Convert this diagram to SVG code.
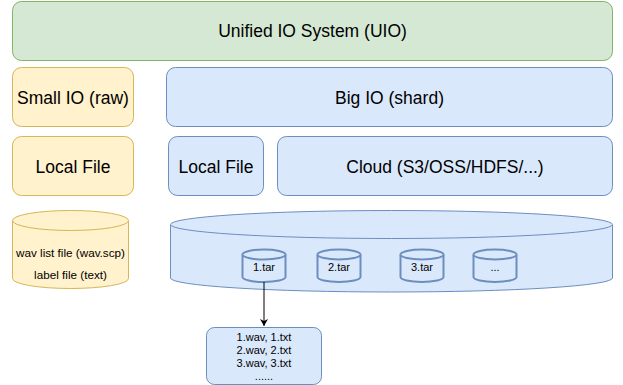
<svg xmlns="http://www.w3.org/2000/svg" width="623" height="385" viewBox="0 0 623 385">
<defs>
<style>
.g{fill:#d5e8d4;stroke:#82b366;stroke-width:1}
.y{fill:#fff2cc;stroke:#d6b656;stroke-width:1}
.b{fill:#dae8fc;stroke:#6c8ebf;stroke-width:1}
.bs{fill:#dae8fc;stroke:#6c8ebf;stroke-width:2}
text{font-family:"Liberation Sans",Arial,sans-serif;fill:#000;text-anchor:middle}
.l{font-size:17.5px}
.m{font-size:11.7px}
.s{font-size:11px}
</style>
<marker id="arr" markerWidth="10" markerHeight="10" refX="8" refY="5" orient="auto" markerUnits="userSpaceOnUse">
<path d="M1,1 L8,5 L1,9 L3,5 Z" fill="#000"/>
</marker>
</defs>
<g id="uio"><rect class="g" x="12.5" y="1.5" width="600" height="59" rx="9"/><text class="l" x="312.5" y="36.5">Unified IO System (UIO)</text></g>
<g id="smallio"><rect class="y" x="12.5" y="67.5" width="121" height="59" rx="9"/><text class="l" x="73" y="103.5">Small IO (raw)</text></g>
<g id="bigio"><rect class="b" x="166.5" y="67.5" width="446" height="59" rx="9"/><text class="l" x="389.5" y="103.5">Big IO (shard)</text></g>
<g id="localfile1"><rect class="y" x="12.5" y="136.5" width="121" height="59" rx="9"/><text class="l" x="73" y="172.5">Local File</text></g>
<g id="localfile2"><rect class="b" x="168.5" y="136.5" width="95" height="59" rx="9"/><text class="l" x="216" y="172.5">Local File</text></g>
<g id="cloud"><rect class="b" x="277.5" y="136.5" width="335" height="59" rx="9"/><text class="l" x="445" y="172.5">Cloud (S3/OSS/HDFS/...)</text></g>
<g id="smallcyl">
<path class="y" d="M12.5,220.5 A58,10 0 0 1 128.5,220.5 L128.5,278.5 A58,10 0 0 1 12.5,278.5 Z"/>
<path class="y" d="M12.5,220.5 A58,10 0 0 0 128.5,220.5" fill="none"/>
<text class="m" x="70.5" y="257">wav list file (wav.scp)</text>
<text class="m" x="70.5" y="279">label file (text)</text>
</g>
<g id="bigcyl">
<path class="b" d="M170.5,224.5 A221,14 0 0 1 612.5,224.5 L612.5,278 A221,14 0 0 1 170.5,278 Z"/>
<path class="b" d="M170.5,224.5 A221,14 0 0 0 612.5,224.5" fill="none"/>
</g>
<g id="tar1">
<path class="bs" d="M242.5,254.5 A21.5,5 0 0 1 285.5,254.5 L285.5,277 A21.5,5 0 0 1 242.5,277 Z"/>
<path class="bs" d="M242.5,254.5 A21.5,5 0 0 0 285.5,254.5" fill="none"/>
<text class="s" x="264" y="271">1.tar</text>
</g>
<g id="tar2">
<path class="bs" d="M317.5,254.5 A21.5,5 0 0 1 360.5,254.5 L360.5,277 A21.5,5 0 0 1 317.5,277 Z"/>
<path class="bs" d="M317.5,254.5 A21.5,5 0 0 0 360.5,254.5" fill="none"/>
<text class="s" x="339" y="271">2.tar</text>
</g>
<g id="tar3">
<path class="bs" d="M400.5,254.5 A21.5,5 0 0 1 443.5,254.5 L443.5,277 A21.5,5 0 0 1 400.5,277 Z"/>
<path class="bs" d="M400.5,254.5 A21.5,5 0 0 0 443.5,254.5" fill="none"/>
<text class="s" x="422" y="271">3.tar</text>
</g>
<g id="tarmore">
<path class="bs" d="M473.5,254.5 A21.5,5 0 0 1 516.5,254.5 L516.5,277 A21.5,5 0 0 1 473.5,277 Z"/>
<path class="bs" d="M473.5,254.5 A21.5,5 0 0 0 516.5,254.5" fill="none"/>
<text class="s" x="495" y="271">...</text>
</g>
<g id="contents">
<rect class="b" x="206.5" y="327.5" width="115" height="57" rx="8"/>
<text class="s" x="264" y="341">1.wav, 1.txt</text>
<text class="s" x="264" y="354">2.wav, 2.txt</text>
<text class="s" x="264" y="367">3.wav, 3.txt</text>
<text class="s" x="264" y="380">......</text>
</g>
<g id="connectors">
<line x1="264" y1="282" x2="264" y2="326" stroke="#000" stroke-width="1" marker-end="url(#arr)"/>
</g>
</svg>
